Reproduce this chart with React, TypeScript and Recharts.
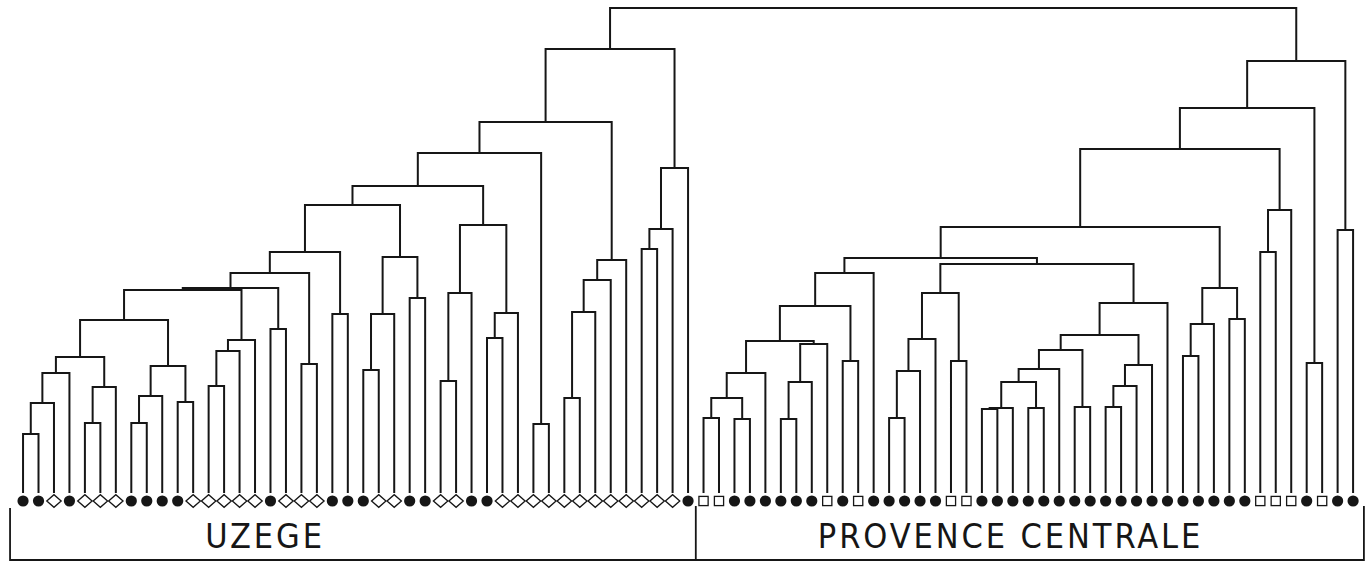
import React from 'react';
import { LineChart, Line, XAxis, YAxis, ReferenceDot } from 'recharts';

// leaf symbols, left to right: c = filled circle, d = open diamond, s = open square
const uzegeSymbols = ['ccdc', 'ddd', 'cccc', 'ddddd', 'c', 'ddd', 'ccc', 'dd', 'cc', 'dd', 'cc', 'dddddd', 'dddddd', 'c']
  .join('')
  .split('');
const provenceSymbols = ['ss', 'cccccc', 'scs', 'ccccc', 'ss', 'cccccc', 'cccccc', 'cccccc', 'sss', 'cscc']
  .join('')
  .split('');

// linkage: [left node, right node, fusion level]; leaves are 0..86, merge k gets id 87 + k
const uzegeLinks: [number, number, number][] = [
  [0, 1, 59], [87, 2, 90], [88, 3, 120], [4, 5, 70], [90, 6, 106], [89, 91, 136],
  [7, 8, 70], [93, 9, 97], [10, 11, 91], [94, 95, 127], [92, 96, 173],
  [12, 13, 107], [98, 14, 142], [99, 15, 153], [16, 17, 164], [97, 100, 203], [102, 101, 205],
  [18, 19, 129], [103, 104, 220], [20, 21, 179], [105, 106, 241],
  [22, 23, 123], [108, 24, 179], [25, 26, 195], [109, 110, 236], [107, 111, 288],
  [27, 28, 112], [113, 29, 200], [30, 31, 155], [115, 32, 180], [114, 116, 268], [112, 117, 307],
  [33, 34, 69], [118, 119, 340],
  [35, 36, 95], [121, 37, 181], [122, 38, 213], [123, 39, 233], [120, 124, 371],
  [40, 41, 244], [126, 42, 264], [127, 43, 325], [125, 128, 444],
];

const provenceLinks: [number, number, number][] = [
  [44, 45, 75], [46, 47, 74], [130, 131, 95], [132, 48, 120],
  [49, 50, 74], [134, 51, 111], [135, 52, 149], [133, 136, 152],
  [53, 54, 132], [137, 138, 187], [139, 55, 220],
  [56, 57, 75], [141, 58, 122], [142, 59, 154], [60, 61, 132], [143, 144, 200],
  [62, 63, 84], [146, 64, 85], [65, 66, 85], [147, 148, 111], [149, 67, 124],
  [68, 69, 86], [150, 151, 143], [70, 71, 86], [153, 72, 107], [154, 73, 128],
  [152, 155, 158], [156, 74, 190], [145, 157, 229], [140, 158, 235],
  [75, 76, 137], [160, 77, 169], [78, 79, 174], [161, 162, 205], [159, 163, 266],
  [80, 81, 241], [165, 82, 283], [164, 166, 344], [83, 84, 130], [167, 168, 385],
  [85, 86, 263], [169, 170, 432],
];

const rootLink: [number, number, number] = [129, 171, 485];

const groups = [
  { label: 'UZEGE', first: 0, last: 43 },
  { label: 'PROVENCE CENTRALE', first: 44, last: 86 },
];

const W = 1367;
const H = 565;
const INK = '#161616';
const MARK_LEVEL = -8;
const BOX_TOP = -15;
const BOX_BOTTOM = -67;
const labelAt = [15.65, 63.85];

const symbols = [...uzegeSymbols, ...provenceSymbols];
const links = [...uzegeLinks, ...provenceLinks, rootLink];

const nodeX: number[] = symbols.map((_, i) => i);
const nodeH: number[] = symbols.map(() => 0);
const branches: { x: number; h: number | null }[] = [];
links.forEach(([a, b, h]) => {
  branches.push(
    { x: nodeX[a], h: nodeH[a] },
    { x: nodeX[a], h },
    { x: nodeX[b], h },
    { x: nodeX[b], h: nodeH[b] },
    { x: nodeX[b], h: null },
  );
  nodeX.push((nodeX[a] + nodeX[b]) / 2);
  nodeH.push(h);
});

const leafPoints = symbols.map((s, i) => ({ x: i, h: MARK_LEVEL, s }));

const lastLeaf = symbols.length - 1;
const boxLeft = -0.84;
const boxRight = lastLeaf + 0.7;
const divider = (groups[0].last + groups[1].first) / 2;
const boxLines = [
  { x: boxLeft, h: BOX_TOP },
  { x: boxLeft, h: BOX_BOTTOM },
  { x: boxRight, h: BOX_BOTTOM },
  { x: boxRight, h: BOX_TOP + 2 },
  { x: boxRight, h: null },
  { x: divider, h: BOX_TOP + 2 },
  { x: divider, h: BOX_BOTTOM },
];

const Marker = (p: any) => {
  const { cx, cy, payload, index } = p;
  if (payload.s === 'c') {
    return <circle key={`m${index}`} cx={cx} cy={cy} r={5.6} fill={INK} />;
  }
  if (payload.s === 'd') {
    const pts = `${cx - 7.2},${cy} ${cx},${cy - 6.3} ${cx + 7.2},${cy} ${cx},${cy + 6.3}`;
    return <polygon key={`m${index}`} points={pts} fill="#fff" stroke={INK} strokeWidth={1.3} />;
  }
  return (
    <rect key={`m${index}`} x={cx - 4.6} y={cy - 4.6} width={9.2} height={9.2} fill="#fff" stroke={INK} strokeWidth={1.3} />
  );
};

export default function App() {
  return (
    <div style={{ position: 'absolute', left: 0, top: 0, width: W, height: H, background: '#fff' }}>
      <LineChart width={W} height={H} margin={{ top: 0, right: 0, bottom: 0, left: 0 }}>
        <XAxis type="number" dataKey="x" domain={[-1.49, lastLeaf + 0.9]} hide />
        <YAxis type="number" dataKey="h" domain={[-72, 493]} hide />
        <Line
          data={branches}
          dataKey="h"
          type="linear"
          stroke={INK}
          strokeWidth={2}
          dot={false}
          activeDot={false}
          connectNulls={false}
          isAnimationActive={false}
        />
        <Line
          data={boxLines}
          dataKey="h"
          type="linear"
          stroke={INK}
          strokeWidth={1.8}
          dot={false}
          activeDot={false}
          connectNulls={false}
          isAnimationActive={false}
        />
        <Line
          data={leafPoints}
          dataKey="h"
          stroke="none"
          dot={Marker}
          activeDot={false}
          isAnimationActive={false}
        />
        {groups.map((g, i) => (
          <ReferenceDot
            key={g.label}
            x={labelAt[i]}
            y={-43}
            r={1}
            shape={(p: any) => (
              <text
                x={p.cx}
                y={p.cy}
                textAnchor="middle"
                dominantBaseline="central"
                fill={INK}
                fontSize={34}
                letterSpacing={2.9}
                fontFamily="'Liberation Sans Narrow', 'DejaVu Sans Condensed', 'Liberation Sans', sans-serif"
              >
                {g.label}
              </text>
            )}
          />
        ))}
      </LineChart>
    </div>
  );
}
